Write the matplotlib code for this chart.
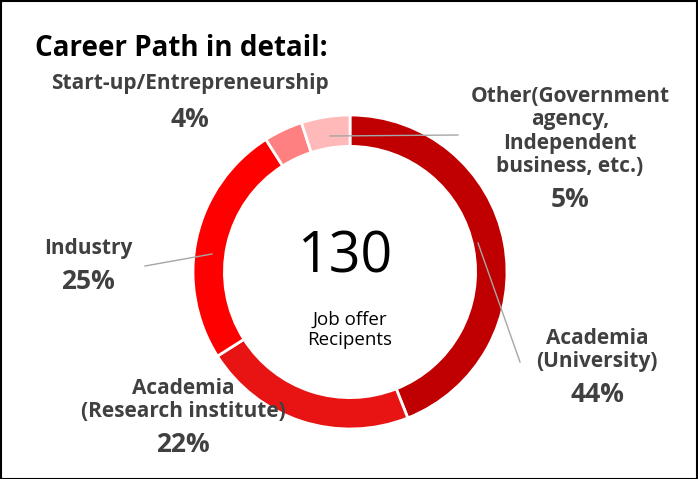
import matplotlib.pyplot as plt

labels = ['Academia\n(University)', 'Academia\n(Research institute)', 'Industry',
          'Start-up/Entrepreneurship', 'Other(Government\nagency,\nIndependent\nbusiness, etc.)']
shares = [44, 22, 25, 4, 5]
colors = ['#C00000', '#E81414', '#FF0000', '#FF8080', '#FFB9B9']
total_recipients = 130

W, H = 698, 479
fig = plt.figure(figsize=(W / 100, H / 100), dpi=100)
plt.rcParams['font.family'] = ['Open Sans', 'DejaVu Sans']

# donut centred at pixel (350, 272), outer radius ~157 px
cx, cy, r = 350, 272, 157
ax = fig.add_axes([(cx - r) / W, 1 - (cy + r) / H, 2 * r / W, 2 * r / H])
ax.pie(shares, colors=colors, startangle=90, counterclock=False,
       wedgeprops=dict(width=0.2, edgecolor='white', linewidth=2))
ax.set_xlim(-1, 1)
ax.set_ylim(-1, 1)
ax.set_aspect('equal')

def px(x, y):
    return x / W, 1 - y / H

gray = '#404040'
fig.text(*px(35, 48), 'Career Path in detail:', fontsize=20, fontweight='bold', va='center', color='black')
fig.text(*px(345, 258), str(total_recipients), fontsize=40, ha='center', va='center', color='black')
fig.text(*px(350, 330), 'Job offer\nRecipents', fontsize=13.5, ha='center', va='center', color='black')

def lab(x, y0, y1, name, pct, ha='center'):
    fig.text(*px(x, y0), name, fontsize=15, fontweight='bold', ha=ha, va='bottom', color=gray,
             linespacing=1.15)
    fig.text(*px(x, y1), f'{pct}%', fontsize=19, fontweight='bold', ha=ha, va='top', color=gray)

lab(190, 94, 106, labels[3], shares[3])
lab(570, 177, 186, labels[4], shares[4])
lab(88, 259, 268, labels[2], shares[2])
lab(597, 372, 381, labels[0], shares[0])
lab(183, 422, 431, labels[1], shares[1])

for (x0, y0), (x1, y1) in [((330, 136), (458, 135)), ((478, 243), (520, 362)), ((145, 266), (212, 254))]:
    fig.add_artist(plt.Line2D([x0 / W, x1 / W], [1 - y0 / H, 1 - y1 / H], color='#A6A6A6', lw=1))

fig.add_artist(plt.Rectangle((0.001, 0.001), 0.997, 0.997, fill=False, edgecolor='black', lw=1.5,
                             transform=fig.transFigure))
fig.savefig('out.png', dpi=100)
